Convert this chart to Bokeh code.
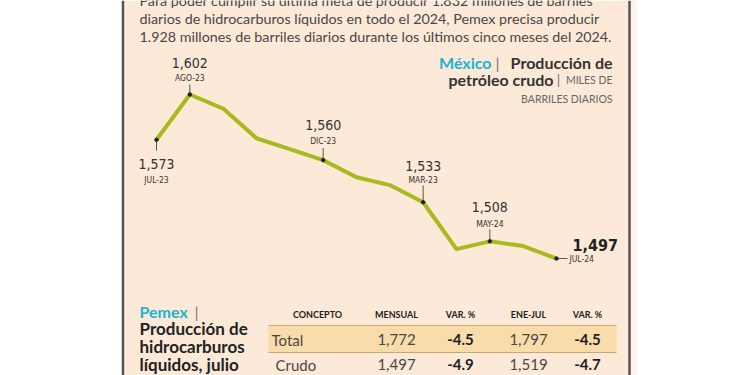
from bokeh.plotting import figure
from bokeh.models import Range1d, ColumnDataSource
from bokeh.core.properties import value
from bokeh.embed import file_html
from bokeh.resources import INLINE

# ---------------- data ----------------
months = ["JUL-23", "AGO-23", "SEP-23", "OCT-23", "NOV-23", "DIC-23", "ENE-24",
          "FEB-24", "MAR-24", "ABR-24", "MAY-24", "JUN-24", "JUL-24"]
production = [1573, 1602, 1593, 1574, 1567, 1560, 1549, 1544, 1533, 1503, 1508, 1505, 1497]
callout_idx = [0, 1, 5, 8, 10]
callout_tags = ["JUL-23", "AGO-23", "DIC-23", "MAR-23", "MAY-24"]
last_tag = "JUL-24"

paragraph = [
    "Para poder cumplir su última meta de producir 1.832 millones de barriles",
    "diarios de hidrocarburos líquidos en todo el 2024, Pemex precisa producir",
    "1.928 millones de barriles diarios durante los últimos cinco meses del 2024.",
]

table_headers = ["CONCEPTO", "MENSUAL", "VAR. %", "ENE-JUL", "VAR. %"]
concepts = ["Total", "Crudo"]
monthly = [1772, 1497]
monthly_var = [-4.5, -4.9]
jan_jul = [1797, 1519]
jan_jul_var = [-4.5, -4.7]

# ---------------- layout / style ----------------
W, H = 750, 375
X_FIRST, PX_MONTH = 156.0, 400.0 / 12     # picture x of first month, px per month
Y_REF_VAL, Y_REF_PX, PX_UNIT = 1602, 94.0, 1.562  # px per thousand barrels

CREAM = "#fce9d8"
BORDER = "#5a524f"
DARK = "#333333"
BODY = "#4a4646"
CYAN = "#1cb3cf"
LINE = "#a8ba1e"
BAND = "#f8dcaa"
BAND_LINE = "#c9a676"
COND = "DejaVu Sans Condensed"

x_start = -X_FIRST / PX_MONTH
x_end = (W - X_FIRST) / PX_MONTH
y_top = Y_REF_VAL + Y_REF_PX / PX_UNIT
y_bot = Y_REF_VAL - (H - Y_REF_PX) / PX_UNIT

p = figure(width=W, height=H, x_range=Range1d(x_start, x_end), y_range=Range1d(y_bot, y_top),
           output_backend="svg", toolbar_location=None, min_border=0,
           x_axis_type=None, y_axis_type=None, outline_line_color=None,
           background_fill_color="white", border_fill_color="white")
p.grid.visible = False
p.extra_x_ranges = {"px": Range1d(0, W)}
p.extra_y_ranges = {"py": Range1d(H, 0)}
PX = dict(x_range_name="px", y_range_name="py")

def txt(x, y, s, size, color=DARK, align="left", bold=False, font="Lato", baseline="middle"):
    p.text(x=[x], y=[y], text=[s], text_font=value(font), text_font_size=size,
           text_font_style="bold" if bold else "normal", text_color=color,
           text_align=align, text_baseline=baseline, **PX)

# panel
p.quad(left=[124], right=[628], top=[0], bottom=[380], fill_color=CREAM, line_color=None, **PX)
p.quad(left=[630], right=[636], top=[0], bottom=[380], fill_color="#fdf3ec", line_color=None, **PX)
p.segment(x0=[122.5, 629], y0=[0, 0], x1=[122.5, 629], y1=[380, 380],
          line_color=BORDER, line_width=2.5, **PX)

# paragraph
for i, line in enumerate(paragraph):
    txt(139, 0 + 18 * i, line, "14.3px", BODY, baseline="middle")

# title
txt(491, 62, "México", "16px", CYAN, align="right", bold=True)
txt(497, 62, "|", "16px", "#777777", align="center")
txt(612, 62, "Producción de", "16px", DARK, align="right", bold=True)
txt(553, 79, "petróleo crudo", "16px", DARK, align="right", bold=True)
txt(558, 79, "|", "14px", "#777777", align="center")
txt(612, 79, "MILES DE", "10.5px", "#666666", align="right")
txt(612, 98, "BARRILES DIARIOS", "10.5px", "#666666", align="right")

# line
idx = list(range(len(months)))
p.line(idx, production, line_color=LINE, line_width=4, line_join="round")

# callouts
vals = [production[i] for i in callout_idx]
up = [1 if i != 0 else -1 for i in callout_idx]
tick_px = [11, 10, 12, 17, 12]
num_off = [24.5, -32, -35.5, -36, -34]
tag_off = [40, -17, -19, -22.5, -17]
src = ColumnDataSource(dict(
    x=callout_idx, y=vals,
    y1=[v + u * t / PX_UNIT for v, u, t in zip(vals, up, tick_px)],
    num=[f"{v:,}" for v in vals], tag=callout_tags, noff=num_off, toff=tag_off))
p.segment(x0="x", y0="y", x1="x", y1="y1", source=src, line_color="#555555", line_width=1)
p.text(x="x", y="y", text="num", y_offset="noff", source=src, text_font=value(COND),
       text_font_size="14px", text_color=DARK, text_align="center", text_baseline="middle")
p.text(x="x", y="y", text="tag", y_offset="toff", source=src, text_font=value(COND),
       text_font_size="8.5px", text_color=DARK, text_align="center", text_baseline="middle")

li = idx[-1]
lv = production[-1]
p.segment(x0=[li], y0=[lv], x1=[li + 11 / PX_MONTH], y1=[lv], line_color="#555555", line_width=1)
p.text(x=[li], y=[lv], text=[f"{lv:,}"], x_offset=16, y_offset=-14, text_font=value(COND),
       text_font_size="16px", text_font_style="bold", text_color="#222222", text_align="left",
       text_baseline="middle")
p.text(x=[li], y=[lv], text=[last_tag], x_offset=13, y_offset=0.5, text_font=value(COND),
       text_font_size="8.5px", text_color=DARK, text_align="left", text_baseline="middle")
p.scatter(x=callout_idx + [li], y=vals + [lv], size=3.5, color="#222222")

# table title
txt(139, 311, "Pemex", "16px", CYAN, bold=True)
txt(196, 311, "|", "16px", "#777777", align="center")
for k, s in enumerate(["Producción de", "hidrocarburos", "líquidos, julio"]):
    txt(139, 328 + 18 * k, s, "17px", "#222222", bold=True)

# table
col_x = [317, 396, 460, 528, 587]
for cx, h in zip(col_x, table_headers):
    txt(cx, 314, h, "9px", "#222222", align="center", bold=True)
p.quad(left=[268], right=[616], top=[325], bottom=[352], fill_color=BAND, line_color=None, **PX)
p.segment(x0=[268, 268], y0=[325, 352], x1=[616, 616], y1=[325, 352], line_color=BAND_LINE, line_width=1, **PX)
row_y = [339, 364]
row_x = [271, 275]
for r in range(len(concepts)):
    y = row_y[r]
    txt(row_x[r], y, concepts[r], "15px", BODY)
    txt(col_x[1], y, f"{monthly[r]:,}", "15px", BODY, align="center")
    txt(col_x[2], y, f"{monthly_var[r]:.1f}", "15px", "#1e1e1e", align="center", bold=True)
    txt(col_x[3], y, f"{jan_jul[r]:,}", "15px", BODY, align="center")
    txt(col_x[4], y, f"{jan_jul_var[r]:.1f}", "15px", "#1e1e1e", align="center", bold=True)

open("out.html", "w").write(file_html(p, INLINE))
